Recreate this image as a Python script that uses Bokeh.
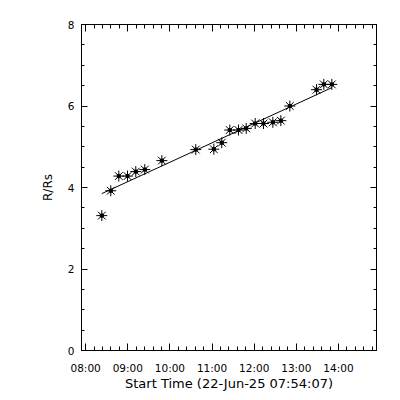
from bokeh.plotting import figure
from bokeh.models import Range1d, FixedTicker, LinearAxis
from bokeh.embed import file_html
from bokeh.resources import INLINE

# ---- data ----
start_time = "07:54:07"
times = ["08:23:01", "08:35:49", "08:47:13", "08:59:37", "09:11:25", "09:24:13",
         "09:48:31", "10:36:49", "11:02:31", "11:13:49", "11:25:13", "11:37:37",
         "11:48:37", "12:01:25", "12:13:13", "12:26:31", "12:37:55", "12:50:43",
         "13:28:43", "13:39:07", "13:50:31"]
heights = [3.31, 3.92, 4.28, 4.28, 4.39, 4.44, 4.66, 4.93, 4.94, 5.10, 5.41,
           5.41, 5.45, 5.57, 5.57, 5.60, 5.64, 6.00, 6.40, 6.53, 6.53]
fit_times = ["08:23:01", "13:50:31"]
fit_heights = [3.85, 6.45]

x_tick_hours = [8, 9, 10, 11, 12, 13, 14]
x_tick_labels = ["08:00", "09:00", "10:00", "11:00", "12:00", "13:00", "14:00"]
y_ticks = [0, 2, 4, 6, 8]
span_hours = 7


def to_hours(s):
    h, m, sec = (int(v) for v in s.split(":"))
    return h + m / 60 + sec / 3600


x = [to_hours(t) for t in times]
fx = [to_hours(t) for t in fit_times]
x0 = to_hours(start_time)
x1 = x0 + span_hours

p = figure(frame_width=295, frame_height=326,
           min_border_left=81, min_border_top=24,
           min_border_right=16, min_border_bottom=42,
           x_range=Range1d(x0, x1), y_range=Range1d(0, 8),
           output_backend="svg", toolbar_location=None,
           background_fill_color="white", border_fill_color="white")
p.xgrid.grid_line_color = None
p.ygrid.grid_line_color = None
p.outline_line_color = "black"
p.outline_line_width = 1

x_minor = [8 + 0.2 * k for k in range(-1, 35) if x0 < 8 + 0.2 * k < x1]
y_minor = [0.5 * k for k in range(17)]
xt = FixedTicker(ticks=x_tick_hours, minor_ticks=x_minor)
yt = FixedTicker(ticks=y_ticks, minor_ticks=y_minor)

FONT = "DejaVu Sans"


def style(ax, major_in, minor_in):
    ax.axis_line_color = "black"
    ax.major_tick_line_color = "black"
    ax.minor_tick_line_color = "black"
    ax.major_tick_in = major_in
    ax.major_tick_out = 0
    ax.minor_tick_in = minor_in
    ax.minor_tick_out = 0
    ax.major_label_text_font = FONT
    ax.major_label_text_font_size = "10.5px"
    ax.major_label_text_color = "black"
    ax.axis_label_text_font = FONT
    ax.axis_label_text_font_size = "12px"
    ax.axis_label_text_font_style = "normal"
    ax.axis_label_text_color = "black"


xa = p.xaxis[0]
xa.ticker = xt
xa.major_label_overrides = dict(zip(x_tick_hours, x_tick_labels))
xa.axis_label = "Start Time (22-Jun-25 " + start_time + ")"
style(xa, 7, 4)
xa.axis_label_text_font_size = "13px"
xa.major_label_standoff = 11
xa.axis_label_standoff = -1

ya = p.yaxis[0]
ya.ticker = yt
ya.axis_label = "R/Rs"
style(ya, 6, 3)
ya.major_label_standoff = 7
ya.axis_label_standoff = 10

top = LinearAxis(ticker=xt, major_label_overrides={t: "" for t in x_tick_hours})
style(top, 7, 4)
top.major_label_standoff = 0
p.add_layout(top, "above")

right = LinearAxis(ticker=yt, major_label_overrides={t: "" for t in y_ticks})
style(right, 6, 3)
right.major_label_standoff = 0
p.add_layout(right, "right")

p.line(fx, fit_heights, line_color="black", line_width=1)
p.scatter(x, heights, marker="asterisk", size=11, line_color="black", line_width=1)
p.scatter(x, heights, marker="square", size=3, fill_color="black", line_color="black")

open("out.html", "w").write(file_html(p, INLINE))
